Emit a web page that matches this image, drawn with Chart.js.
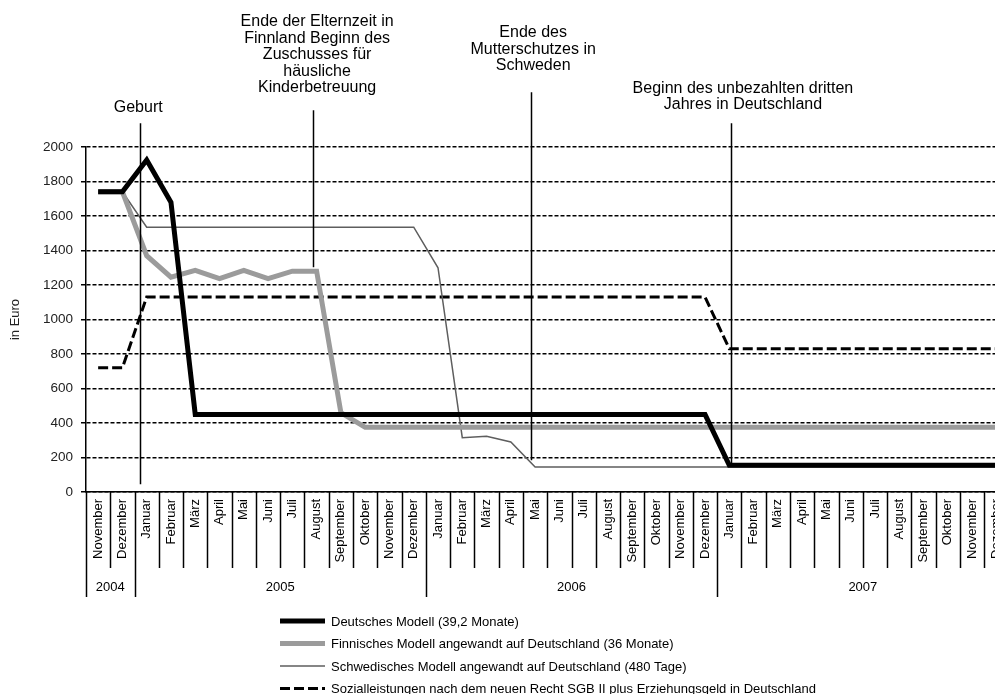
<!DOCTYPE html>
<html><head><meta charset="utf-8">
<script src="https://cdn.jsdelivr.net/npm/chart.js@4"></script>
<style>
html,body{margin:0;padding:0;overflow:hidden;background:#fff;width:995px;height:694px}
#wrap{position:absolute;left:0;top:0;width:1025px;height:694px}
</style>
</head><body>
<div id="wrap"><canvas id="c" width="1025" height="694"></canvas></div>
<script>
// ---- data ----
const monthNames = ['Januar','Februar','März','April','Mai','Juni','Juli','August','September','Oktober','November','Dezember'];
const years = ['2004','2005','2006','2007'];
const yearFirstMonth = [10, 0, 0, 0];
const yearMonthCount = [2, 12, 12, 12];

const deutschesModell = [1740,1740,1925,1680,450,450,450,450,450,450,450,450,450,450,450,450,450,450,450,450,450,450,450,450,450,450,155,155,155,155,155,155,155,155,155,155,155,155];
const finnischesModell = [1740,1740,1370,1245,1285,1237,1285,1237,1280,1280,460,375,375,375,375,375,375,375,375,375,375,375,375,375,375,375,375,375,375,375,375,375,375,375,375,375,375,375];
const schwedischesModell = [1740,1740,1535,1535,1535,1535,1535,1535,1535,1535,1535,1535,1535,1535,1300,315,323,290,145,145,145,145,145,145,145,145,145,145,145,145,145,145,145,145,145,145,145,145];
const sozialleistungen = [720,720,1130,1130,1130,1130,1130,1130,1130,1130,1130,1130,1130,1130,1130,1130,1130,1130,1130,1130,1130,1130,1130,1130,1130,1130,830,830,830,830,830,830,830,830,830,830,830,830];

const seriesLabels = [
  'Deutsches Modell (39,2 Monate)',
  'Finnisches Modell angewandt auf Deutschland (36 Monate)',
  'Schwedisches Modell angewandt auf Deutschland (480 Tage)',
  'Sozialleistungen nach dem neuen Recht SGB II plus Erziehungsgeld in Deutschland'
];
const yTicksMax = 2000;
const yTicksStep = 200;

// event markers: position in category index units, line extent and text position in euro units
const eventTexts = [
  ['Geburt'],
  ['Ende der Elternzeit in','Finnland Beginn des','Zuschusses für','häusliche','Kinderbetreuung'],
  ['Ende des','Mutterschutzes in','Schweden'],
  ['Beginn des unbezahlten dritten','Jahres in Deutschland']
];
const eventPos = [1.72, 8.84, 17.83, 26.06];
const eventLineTop = [2137, 2213, 2317, 2137];
const eventLineBottom = [45, 1303, 184, 167];
const eventTextPos = [1.65, 9.02, 17.92, 26.56];
const eventTextTop = [2230, 2725, 2663, 2340];

// ---- build categories ----
const categories = [];
const yearStartIdx = [];
years.forEach((y, k) => {
  yearStartIdx.push(categories.length);
  for (let m = 0; m < yearMonthCount[k]; m++) categories.push(monthNames[yearFirstMonth[k] + m]);
});
yearStartIdx.push(categories.length);

const FONT = "'Liberation Sans', Arial, Helvetica, sans-serif";
Chart.defaults.font.family = FONT;
Chart.defaults.color = '#000';

const extras = {
  id: 'extras',
  afterDraw(chart) {
    const ctx = chart.ctx, xs = chart.scales.x, ys = chart.scales.y;
    const bottom = chart.chartArea.bottom;
    ctx.save();
    // category separators and year boundaries
    ctx.strokeStyle = '#000';
    ctx.lineWidth = 1.5;
    for (let i = 0; i <= categories.length; i++) {
      const px = Math.round(xs.getPixelForValue(i - 0.5)) + 0.5;
      const len = yearStartIdx.includes(i) ? 105 : 76;
      ctx.beginPath(); ctx.moveTo(px, bottom); ctx.lineTo(px, bottom + len); ctx.stroke();
    }
    // year labels
    ctx.font = '13px ' + FONT;
    ctx.fillStyle = '#000';
    ctx.textAlign = 'center'; ctx.textBaseline = 'middle';
    years.forEach((y, k) => {
      const a = xs.getPixelForValue(yearStartIdx[k] - 0.5);
      const b = xs.getPixelForValue(yearStartIdx[k + 1] - 0.5);
      ctx.fillText(y, (a + b) / 2, bottom + 95);
    });
    // event markers
    ctx.lineWidth = 1.5;
    ctx.font = '16px ' + FONT;
    eventTexts.forEach((lines, k) => {
      const px = Math.round(xs.getPixelForValue(eventPos[k])) + 0.5;
      ctx.beginPath();
      ctx.moveTo(px, ys.getPixelForValue(eventLineTop[k]));
      ctx.lineTo(px, ys.getPixelForValue(eventLineBottom[k]));
      ctx.stroke();
      const tx = xs.getPixelForValue(eventTextPos[k]);
      const ty = ys.getPixelForValue(eventTextTop[k]);
      lines.forEach((t, j) => ctx.fillText(t, tx, ty + j * 16.5));
    });
    // legend
    const lx = 280, lLen = 45, ltx = 331, ly = 621, lstep = 22.5;
    ctx.textAlign = 'left';
    ctx.font = '13px ' + FONT;
    chart.data.datasets.forEach((ds, i) => {
      const yy = ly + i * lstep;
      ctx.save();
      ctx.strokeStyle = ds.borderColor;
      ctx.lineWidth = ds.borderWidth;
      ctx.setLineDash(ds.borderDash || []);
      ctx.beginPath(); ctx.moveTo(lx, yy); ctx.lineTo(lx + lLen, yy); ctx.stroke();
      ctx.restore();
      ctx.fillText(ds.label, ltx, yy + 1);
    });
    ctx.restore();
  }
};

new Chart(document.getElementById('c'), {
  type: 'line',
  data: {
    labels: categories,
    datasets: [
      { label: seriesLabels[0], data: deutschesModell, borderColor: '#000', borderWidth: 5, pointRadius: 0, tension: 0 },
      { label: seriesLabels[1], data: finnischesModell, borderColor: '#9b9b9b', borderWidth: 5, pointRadius: 0, tension: 0 },
      { label: seriesLabels[2], data: schwedischesModell, borderColor: '#5e5e5e', borderWidth: 1.5, pointRadius: 0, tension: 0 },
      { label: seriesLabels[3], data: sozialleistungen, borderColor: '#000', borderWidth: 3, borderDash: [10, 4], pointRadius: 0, tension: 0 }
    ]
  },
  options: {
    responsive: false,
    animation: false,
    devicePixelRatio: 1,
    layout: { padding: { top: 147, right: 16.5, bottom: 0, left: 0 } },
    plugins: { legend: { display: false }, tooltip: { enabled: false } },
    scales: {
      x: {
        offset: true,
        grid: { display: false, drawTicks: false },
        border: { display: true, color: '#000', width: 1.5 },
        ticks: { autoSkip: false, minRotation: 90, maxRotation: 90, padding: 7, font: { size: 13 }, color: '#000' },
        afterFit(s) { s.height = 202; }
      },
      y: {
        min: 0, max: yTicksMax,
        grid: { color: '#000', lineWidth: 1.5, tickLength: 5, tickBorderDash: [4, 2] },
        border: { display: true, color: '#000', width: 1.5, dash: [4, 2] },
        ticks: { stepSize: yTicksStep, padding: 8, font: { size: 13.5 }, color: '#222', callback: (v) => String(v) },
        title: { display: true, text: 'in Euro', font: { size: 13 }, color: '#222', padding: { top: 8, bottom: 0 } },
        afterFit(s) { s.width = 86; }
      }
    }
  },
  plugins: [extras]
});
</script>
</body></html>
